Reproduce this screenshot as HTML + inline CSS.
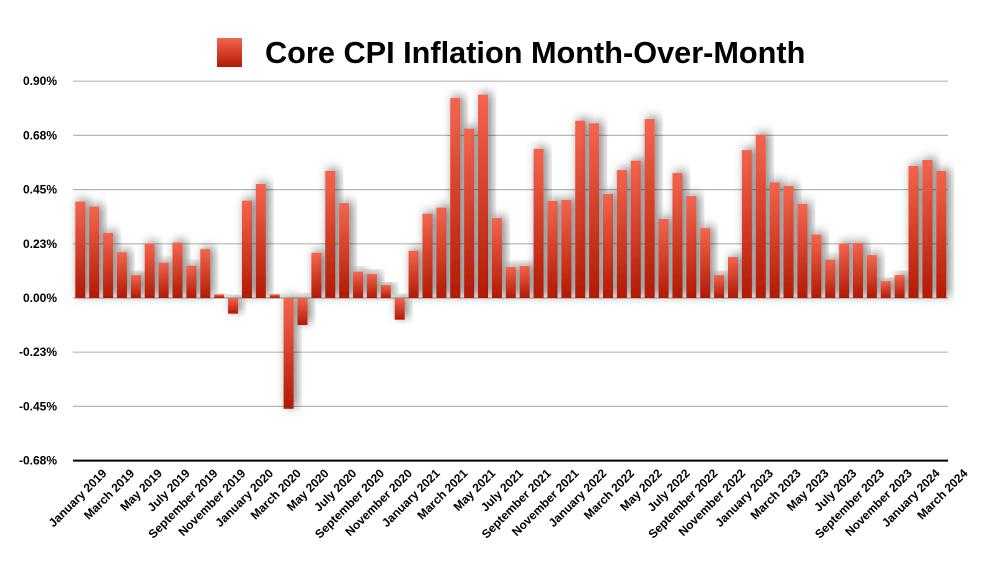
<!DOCTYPE html>
<html><head><meta charset="utf-8"><style>
body{margin:0;background:#fff;}
svg{display:block;font-family:"Liberation Sans",Arial,sans-serif;}
</style></head><body>
<svg id="chart" width="987" height="571" viewBox="0 0 987 571">
<defs>
<linearGradient id="barGrad" x1="0" y1="0" x2="0" y2="1">
<stop offset="0" stop-color="#f4654e"/><stop offset="1" stop-color="#b21a04"/>
</linearGradient>
<filter id="shadow" x="-80%" y="-20%" width="260%" height="140%">
<feDropShadow dx="3" dy="-2" stdDeviation="5" flood-color="#000" flood-opacity="0.55"/>
</filter>
</defs>
<g>
<rect x="217" y="38" width="25" height="29" fill="url(#barGrad)"/>
<text x="265" y="63" font-size="30.7" font-weight="bold" fill="#000">Core CPI Inflation Month-Over-Month</text>
</g>
<g id="grid"></g><g id="bars"></g><g id="xlabels"></g>
</svg>
<script>
const months = ["January","February","March","April","May","June","July","August","September","October","November","December"];
const startYear = 2019;
const values = [0.40,0.38,0.27,0.19,0.095,0.225,0.147,0.23,0.134,0.203,0.015,-0.065,0.404,0.473,0.015,-0.46,-0.112,0.188,0.528,0.394,0.109,0.10,0.054,-0.09,0.196,0.35,0.375,0.83,0.703,0.844,0.332,0.129,0.133,0.619,0.403,0.407,0.736,0.725,0.432,0.531,0.57,0.743,0.328,0.519,0.423,0.29,0.095,0.17,0.614,0.678,0.48,0.465,0.39,0.263,0.159,0.225,0.228,0.178,0.07,0.095,0.548,0.573,0.527];
const tickValues = [0.9,0.675,0.45,0.225,0,-0.225,-0.45,-0.675];
const tickLabels = ["0.90%","0.68%","0.45%","0.23%","0.00%","-0.23%","-0.45%","-0.68%"];
const NS="http://www.w3.org/2000/svg";
const x0=80.3, pitch=(941.3-80.3)/62, barW=10;
function yScale(v){return 298-(v/0.225)*54.2;}
function xScale(i){return x0+i*pitch;}
function mk(t,a,p){const e=document.createElementNS(NS,t);for(const k in a)e.setAttribute(k,a[k]);p.appendChild(e);return e;}
const grid=document.getElementById('grid');
tickValues.forEach((v,i)=>{
  const y=yScale(v);
  const last=i===tickValues.length-1;
  const l=mk('line',{x1:73,x2:948,y1:y,y2:y,stroke:last?'#000':'#b5b5b5','stroke-width':last?2:1.2},grid);
  
  
  const t=mk('text',{x:57,y:y+4,'text-anchor':'end','font-size':12,'font-weight':'bold',fill:'#000'},grid);
  t.textContent=tickLabels[i];
  
  
});
const bars=document.getElementById('bars');
values.forEach((v,i)=>{
  const y=yScale(v), z=yScale(0);
  const r=mk('rect',{x:xScale(i)-barW/2,y:Math.min(y,z),width:barW,height:Math.max(1,Math.abs(z-y)),fill:'url(#barGrad)',filter:'url(#shadow)'},bars);
  
  
});
const xl=document.getElementById('xlabels');
values.forEach((v,i)=>{
  if(i%2) return;
  const cx=xScale(i)+27, cy=474;
  const t=mk('text',{x:cx,y:cy,'text-anchor':'end','font-size':12,'font-weight':'bold',fill:'#000',transform:`rotate(-45 ${cx} ${cy})`},xl);
  t.textContent=months[i%12]+' '+(startYear+Math.floor(i/12));
  
  
});
</script>
</body></html>
